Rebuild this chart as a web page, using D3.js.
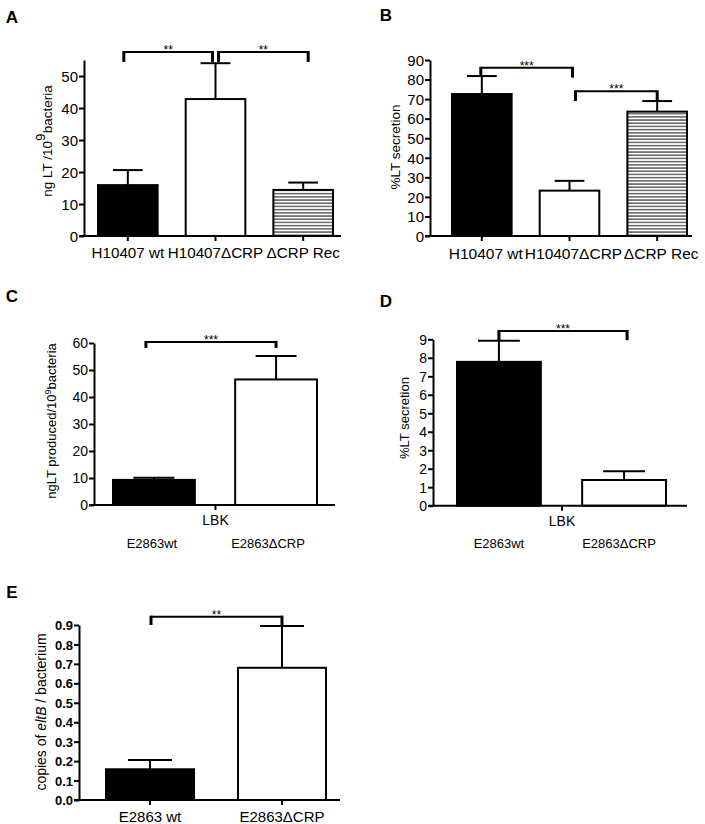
<!DOCTYPE html>
<html><head><meta charset="utf-8">
<script src="https://cdn.jsdelivr.net/npm/d3@7"></script>
<style>body{margin:0;background:#fff}svg{display:block}text{font-family:"Liberation Sans",Arial,sans-serif}</style>
</head><body>
<script>
// ---------- data ----------
const catsAB = ["H10407 wt", "H10407ΔCRP", "ΔCRP Rec"];
const aMeans = [15.9, 42.8, 14.4];
const aErrs  = [4.7, 11.2, 2.3];
const aTicks = [0, 10, 20, 30, 40, 50];

const bMeans = [72.6, 23.2, 63.6];
const bErrs  = [9.2, 5.0, 5.4];
const bTicks = [0, 10, 20, 30, 40, 50, 60, 70, 80, 90];

const catsCD = ["E2863wt", "E2863ΔCRP"];
const groupCD = ["LBK"];
const cMeans = [9.3, 46.5];
const cErrs  = [0.8, 8.7];
const cTicks = [0, 10, 20, 30, 40, 50, 60];

const dMeans = [7.78, 1.39];
const dErrs  = [1.14, 0.47];
const dTicks = [0, 1, 2, 3, 4, 5, 6, 7, 8, 9];

const catsE  = ["E2863 wt", "E2863ΔCRP"];
const eMeans = [0.158, 0.68];
const eErrs  = [0.048, 0.215];
const eTicks = [0, 0.1, 0.2, 0.3, 0.4, 0.5, 0.6, 0.7, 0.8, 0.9];

// ---------- drawing ----------
const FF = '"Liberation Sans",Arial,sans-serif';
const svg = d3.select("body").append("svg").attr("width", 705).attr("height", 824);
const defs = svg.append("defs");
const pat = defs.append("pattern").attr("id", "stripes").attr("patternUnits", "userSpaceOnUse")
  .attr("width", 8).attr("height", 3.2);
pat.append("rect").attr("width", 8).attr("height", 3.2).attr("fill", "#fff");
pat.append("rect").attr("y", 1).attr("width", 8).attr("height", 1.3).attr("fill", "#4a4a4a");

const fills = ["#000", "#fff", "url(#stripes)"];

function panel(o) {
  const g = svg.append("g");
  const y = d3.scaleLinear().domain([0, o.yMax]).range([o.yZero, o.yTop]);
  const x = d3.scaleBand().domain(o.cats).range(o.barRange).paddingInner(o.pad).paddingOuter(0);
  const bw = x.bandwidth();

  g.append("text").attr("x", o.letter[1]).attr("y", o.letter[2]).attr("text-anchor", "middle")
    .attr("font-weight", "bold").attr("font-size", 17).text(o.letter[0]);

  g.selectAll("rect.bar").data(o.means).join("rect").attr("class", "bar")
    .attr("x", (d, i) => x(o.cats[i])).attr("width", bw)
    .attr("y", d => y(d)).attr("height", d => y(0) - y(d))
    .attr("fill", (d, i) => fills[i]).attr("stroke", "#000").attr("stroke-width", 2);

  const eg = g.selectAll("g.err").data(o.means).join("g").attr("class", "err");
  eg.append("line").attr("x1", (d, i) => x(o.cats[i]) + bw / 2).attr("x2", (d, i) => x(o.cats[i]) + bw / 2)
    .attr("y1", d => y(d)).attr("y2", (d, i) => y(d + o.errs[i]))
    .attr("stroke", "#000").attr("stroke-width", 2);
  eg.append("line").attr("x1", (d, i) => x(o.cats[i]) + bw / 4).attr("x2", (d, i) => x(o.cats[i]) + bw * 3 / 4)
    .attr("y1", (d, i) => y(d + o.errs[i])).attr("y2", (d, i) => y(d + o.errs[i]))
    .attr("stroke", "#000").attr("stroke-width", 2);

  const ya = g.append("g").attr("transform", `translate(${o.xLeft},0)`)
    .call(d3.axisLeft(y).tickValues(o.ticks).tickSize(5).tickSizeOuter(0).tickFormat(o.fmt || (d => d)));
  ya.attr("font-size", o.tickFont).attr("font-family", FF);
  ya.select(".domain").attr("stroke-width", 2);
  ya.selectAll(".tick line").attr("stroke-width", 2);
  ya.selectAll(".tick text").attr("font-family", FF)
    .attr("font-size", o.tickFont).attr("font-weight", o.tickBold ? "bold" : "normal").attr("x", -6).attr("dy", "0.35em");

  g.append("line").attr("x1", o.xLeft - 5).attr("x2", o.xRight).attr("y1", o.yZero).attr("y2", o.yZero)
    .attr("stroke", "#000").attr("stroke-width", 2);

  if (o.group) {
    const xp = d3.scalePoint().domain(o.group).range(o.barRange).padding(0.5);
    const xa = g.append("g").attr("transform", `translate(0,${o.yZero})`).call(d3.axisBottom(xp).tickSize(5).tickSizeOuter(0));
    xa.attr("font-size", 14).attr("font-family", FF);
    xa.select(".domain").remove();
    xa.selectAll(".tick line").attr("stroke-width", 2);
    xa.selectAll(".tick text").attr("font-family", FF).attr("font-size", 14).attr("dy", "0.85em");
    g.selectAll("text.cl").data(o.cats).join("text").attr("class", "cl")
      .attr("x", (d, i) => x(d) + bw / 2 + o.catShift[i]).attr("y", o.catY).attr("text-anchor", "middle")
      .attr("font-size", 13).text(d => d);
  } else {
    const xa = g.append("g").attr("transform", `translate(0,${o.yZero})`).call(d3.axisBottom(x).tickSize(5).tickSizeOuter(0));
    xa.attr("font-size", o.xFont).attr("font-family", FF);
    xa.select(".domain").remove();
    xa.selectAll(".tick line").attr("stroke-width", 2);
    xa.selectAll(".tick text").attr("font-family", FF).attr("font-size", o.xFont).attr("dy", o.xDy)
      .attr("dx", o.xShift || 0);
  }

  const t = g.append("text").attr("transform", `translate(${o.titleX},${o.titleY}) rotate(-90)`)
    .attr("text-anchor", "middle").attr("font-size", o.titleFont);
  o.title(t);

  (o.brackets || []).forEach(b => {
    const x1 = x(o.cats[b.a]) + bw / 2 + b.oa, x2 = x(o.cats[b.b]) + bw / 2 + b.ob;
    g.append("line").attr("x1", x1).attr("x2", x2).attr("y1", y(b.y)).attr("y2", y(b.y)).attr("stroke", "#000").attr("stroke-width", 2);
    g.append("line").attr("x1", x1).attr("x2", x1).attr("y1", y(b.y) - 1).attr("y2", y(b.yl)).attr("stroke", "#000").attr("stroke-width", 3);
    g.append("line").attr("x1", x2).attr("x2", x2).attr("y1", y(b.y) - 1).attr("y2", y(b.yr)).attr("stroke", "#000").attr("stroke-width", 3);
    g.append("text").attr("x", (x1 + x2) / 2).attr("y", y(b.y) + 2).attr("text-anchor", "middle")
      .attr("font-size", 12).text(b.label);
  });
}

// A
panel({
  letter: ["A", 12, 23], cats: catsAB, means: aMeans, errs: aErrs, ticks: aTicks, yMax: 55,
  yZero: 236, yTop: 60, xLeft: 84, xRight: 341, barRange: [98, 333], pad: 0.32,
  tickFont: 15, xFont: 15.2, xDy: "0.95em",
  titleX: 52, titleY: 141, titleFont: 13.5,
  title: t => { t.append("tspan").text("ng LT /10"); t.append("tspan").attr("dy", -7).text("9"); t.append("tspan").attr("dy", 7).text("bacteria"); },
  brackets: [
    {a: 0, b: 1, oa: -4, ob: -3, y: 57.5, yl: 54.4, yr: 54.4, label: "**"},
    {a: 1, b: 2, oa: 3, ob: 5, y: 57.5, yl: 54.4, yr: 54.4, label: "**"}
  ]
});

// B
panel({
  letter: ["B", 386, 21], cats: catsAB, means: bMeans, errs: bErrs, ticks: bTicks, yMax: 90,
  yZero: 236, yTop: 60, xLeft: 430, xRight: 692, barRange: [452, 687], pad: 0.32,
  tickFont: 15, xFont: 15.5, xDy: "0.95em", xShift: 4,
  titleX: 400, titleY: 147, titleFont: 13.5,
  title: t => t.text("%LT secretion"),
  brackets: [
    {a: 0, b: 1, oa: -1, ob: 3, y: 86, yl: 81.8, yr: 81, label: "***"},
    {a: 1, b: 2, oa: 6, ob: 0, y: 74, yl: 69, yr: 69, label: "***"}
  ]
});

// C
panel({
  letter: ["C", 12, 302], cats: catsCD, means: cMeans, errs: cErrs, ticks: cTicks, yMax: 60,
  yZero: 505, yTop: 343, xLeft: 94, xRight: 335, barRange: [113, 317], pad: 0.33,
  tickFont: 14, group: groupCD, catY: 548, catShift: [-2, -8],
  titleX: 56, titleY: 421, titleFont: 13,
  title: t => { t.append("tspan").text("ngLT produced/10"); t.append("tspan").attr("dy", -5).attr("font-size", 9).text("9"); t.append("tspan").attr("dy", 5).text("bacteria"); },
  brackets: [
    {a: 0, b: 1, oa: -8, ob: 0, y: 60.4, yl: 58.2, yr: 58.2, label: "***"}
  ]
});

// D
panel({
  letter: ["D", 386, 307], cats: catsCD, means: dMeans, errs: dErrs, ticks: dTicks, yMax: 9,
  yZero: 505.7, yTop: 339.3, xLeft: 433, xRight: 687, barRange: [457, 666], pad: 0.33,
  tickFont: 14, group: groupCD, catY: 548, catShift: [0, -5],
  titleX: 409, titleY: 418, titleFont: 13,
  title: t => t.text("%LT secretion"),
  brackets: [
    {a: 0, b: 1, oa: 0, ob: 3, y: 9.45, yl: 8.95, yr: 8.95, label: "***"}
  ]
});

// E
panel({
  letter: ["E", 12, 598], cats: catsE, means: eMeans, errs: eErrs, ticks: eTicks, yMax: 0.9,
  yZero: 800, yTop: 625, xLeft: 79, xRight: 340, barRange: [106, 326], pad: 0.333,
  tickFont: 13, tickBold: true, fmt: d3.format(".1f"), xFont: 15, xDy: "0.95em",
  titleX: 46, titleY: 712, titleFont: 14,
  title: t => { t.append("tspan").text("copies of "); t.append("tspan").attr("font-style", "italic").text("eltB"); t.append("tspan").text(" / bacterium"); },
  brackets: [
    {a: 0, b: 1, oa: 1, ob: 0, y: 0.943, yl: 0.9, yr: 0.9, label: "**"}
  ]
});
</script>
</body></html>
